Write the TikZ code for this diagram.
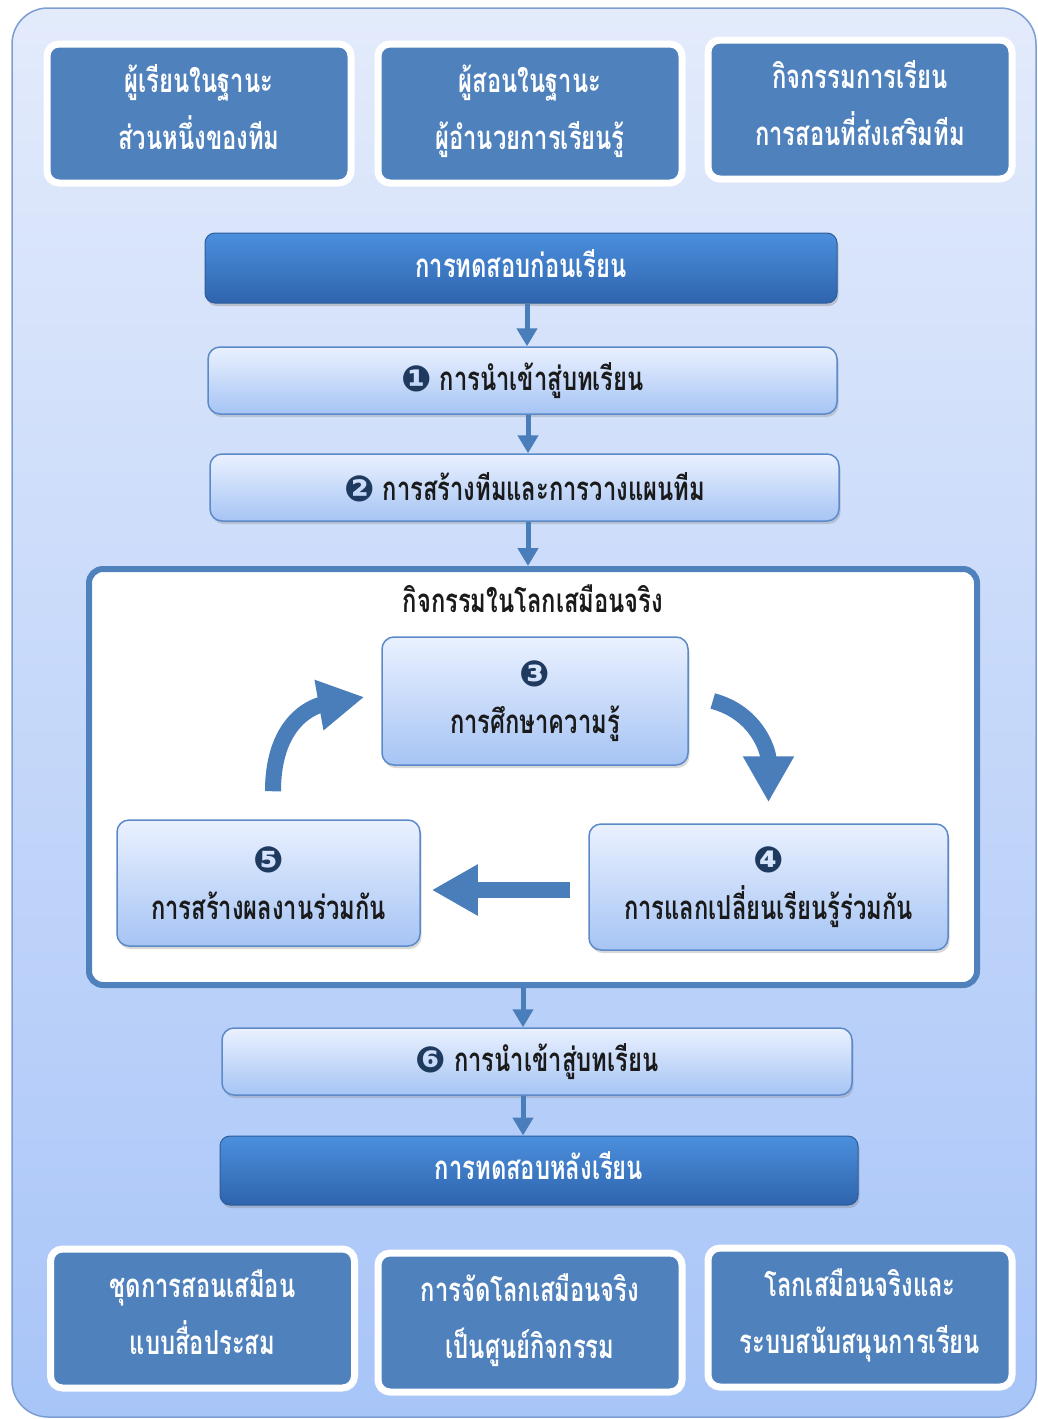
\documentclass[tikz,border=0pt]{standalone}
\usepackage{fontspec}
\usetikzlibrary{arrows.meta,shadows}
\newfontfamily\thaifont[Script=Thai,FakeStretch=0.72]{Loma}
\newfontfamily\dingfont{DejaVu Sans}

\definecolor{boxblue}{HTML}{4F81BD}
\definecolor{arrowblue}{HTML}{4A7EBB}
\definecolor{navy}{HTML}{1F3A5F}
\definecolor{bgtop}{HTML}{E3EBFB}
\definecolor{bgbot}{HTML}{A8C5F8}
\definecolor{bgline}{HTML}{7C9DD3}
\definecolor{lighttop}{HTML}{EAF1FF}
\definecolor{lightbot}{HTML}{A6C4F4}
\definecolor{lightline}{HTML}{5C8AC8}
\definecolor{bartop}{HTML}{4B8FDD}
\definecolor{barbot}{HTML}{2F64AC}
\definecolor{barline}{HTML}{2D5C9C}
\definecolor{ink}{HTML}{1A1A1A}

% dark circled step number
\newcommand{\badge}[1]{{\dingfont\fontsize{36}{36}\selectfont\color{navy}\raisebox{-1pt}{#1}}}

\tikzset{
  background/.style={rounded corners=36pt, draw=bgline, line width=1.5pt,
    top color=bgtop, bottom color=bgbot},
  infobox/.style={rounded corners=12pt, draw=white, line width=7pt, fill=boxblue,
    minimum width=304pt, minimum height=139pt, text=white, align=center,
    text depth=12pt,
    font=\thaifont\bfseries\fontsize{33}{57}\selectfont,
    drop shadow={opacity=0.3, shadow xshift=1.5pt, shadow yshift=-3pt}},
  testbar/.style={rounded corners=10pt, draw=barline, line width=1pt,
    top color=bartop, bottom color=barbot, text=white, text depth=9pt,
    font=\thaifont\bfseries\fontsize{33}{34}\selectfont,
    drop shadow={opacity=0.35, shadow xshift=1.5pt, shadow yshift=-3pt}},
  stepbox/.style={rounded corners=12pt, draw=lightline, line width=1.5pt,
    top color=lighttop, bottom color=lightbot, text=ink, align=center,
    font=\thaifont\bfseries\fontsize{33}{48}\selectfont,
    drop shadow={opacity=0.3, shadow xshift=1.5pt, shadow yshift=-3pt}},
  worldframe/.style={rounded corners=14pt, draw=boxblue, line width=6pt, fill=white},
  vconn/.style={draw=arrowblue, line width=5pt,
    -{Triangle[width=20pt,length=18pt]}},
  blockarrow/.style={draw=arrowblue, line width=16pt,
    -{Triangle[width=48pt,length=46pt]}},
}

\begin{document}
\begin{tikzpicture}[x=1pt,y=-1pt]
\useasboundingbox (0,0) rectangle (1037,1419);

% page background panel
\path[background] (12,8) rectangle (1036,1417);

% top row of roles
\node[infobox] (roleA) at (199,113.5) {ผู้เรียนในฐานะ\\ส่วนหนึ่งของทีม};
\node[infobox] (roleB) at (530,113.5) {ผู้สอนในฐานะ\\ผู้อำนวยการเรียนรู้};
\node[infobox] (roleC) at (860,109.5) {กิจกรรมการเรียน\\การสอนที่ส่งเสริมทีม};

% pre-test and opening steps
\node[testbar, minimum width=632pt, minimum height=70pt] (pre) at (521,268) {การทดสอบก่อนเรียน};
\node[stepbox, minimum width=629pt, minimum height=67pt] (st1) at (522.5,380.5) {\badge{❶} การนำเข้าสู่บทเรียน};
\node[stepbox, minimum width=629pt, minimum height=67pt] (st2) at (524.5,487.5) {\badge{❷} การสร้างทีมและการวางแผนทีม};

% virtual-world activity cycle
\node[worldframe, minimum width=888pt, minimum height=416pt] (world) at (533,777) {};
\node[text=ink, font=\thaifont\bfseries\fontsize{33}{34}\selectfont] (worldtitle) at (533,599) {กิจกรรมในโลกเสมือนจริง};
\node[stepbox, minimum width=306pt, minimum height=128pt] (st3) at (535,701) {\badge{❸}\\การศึกษาความรู้};
\node[stepbox, minimum width=359pt, minimum height=126pt] (st4) at (768.5,887) {\badge{❹}\\การแลกเปลี่ยนเรียนรู้ร่วมกัน};
\node[stepbox, minimum width=303pt, minimum height=126pt] (st5) at (268.5,883) {\badge{❺}\\การสร้างผลงานร่วมกัน};

% closing step and post-test
\node[stepbox, minimum width=630pt, minimum height=67pt] (st6) at (537,1061.5) {\badge{❻} การนำเข้าสู่บทเรียน};
\node[testbar, minimum width=638pt, minimum height=69pt] (post) at (539,1170.5) {การทดสอบหลังเรียน};

% bottom row of supports
\node[infobox] (supA) at (202.5,1318.5) {ชุดการสอนเสมือน\\แบบสื่อประสม};
\node[infobox] (supB) at (530,1322.5) {การจัดโลกเสมือนจริง\\เป็นศูนย์กิจกรรม};
\node[infobox] (supC) at (860,1317.5) {โลกเสมือนจริงและ\\ระบบสนับสนุนการเรียน};

% vertical flow
\draw[vconn] ([xshift=6pt]pre.south) -- ([xshift=4.5pt]st1.north);
\draw[vconn] ([xshift=5.5pt]st1.south) -- ([xshift=3.5pt]st2.north);
\draw[vconn] ([xshift=3.5pt]st2.south) -- ([xshift=-5pt]world.north);
\draw[vconn] ([xshift=-10pt]world.south) -- ([xshift=-14pt]st6.north);
\draw[vconn] ([xshift=-14pt]st6.south) -- ([xshift=-16pt]post.north);

% cycle arrows
\draw[blockarrow] ([xshift=24pt]st3.east) .. controls +(45,12) and +(0,-50) .. ([yshift=21pt]st4.north);
\draw[blockarrow] ([xshift=-18pt,yshift=-3pt]st4.west) -- ([xshift=11pt,yshift=-7pt]st5.east);
\draw[blockarrow] ([xshift=4.5pt,yshift=28pt]st5.north) .. controls +(0,-75) and +(-45,8) .. ([xshift=-17pt,yshift=4pt]st3.west);
\end{tikzpicture}
\end{document}
